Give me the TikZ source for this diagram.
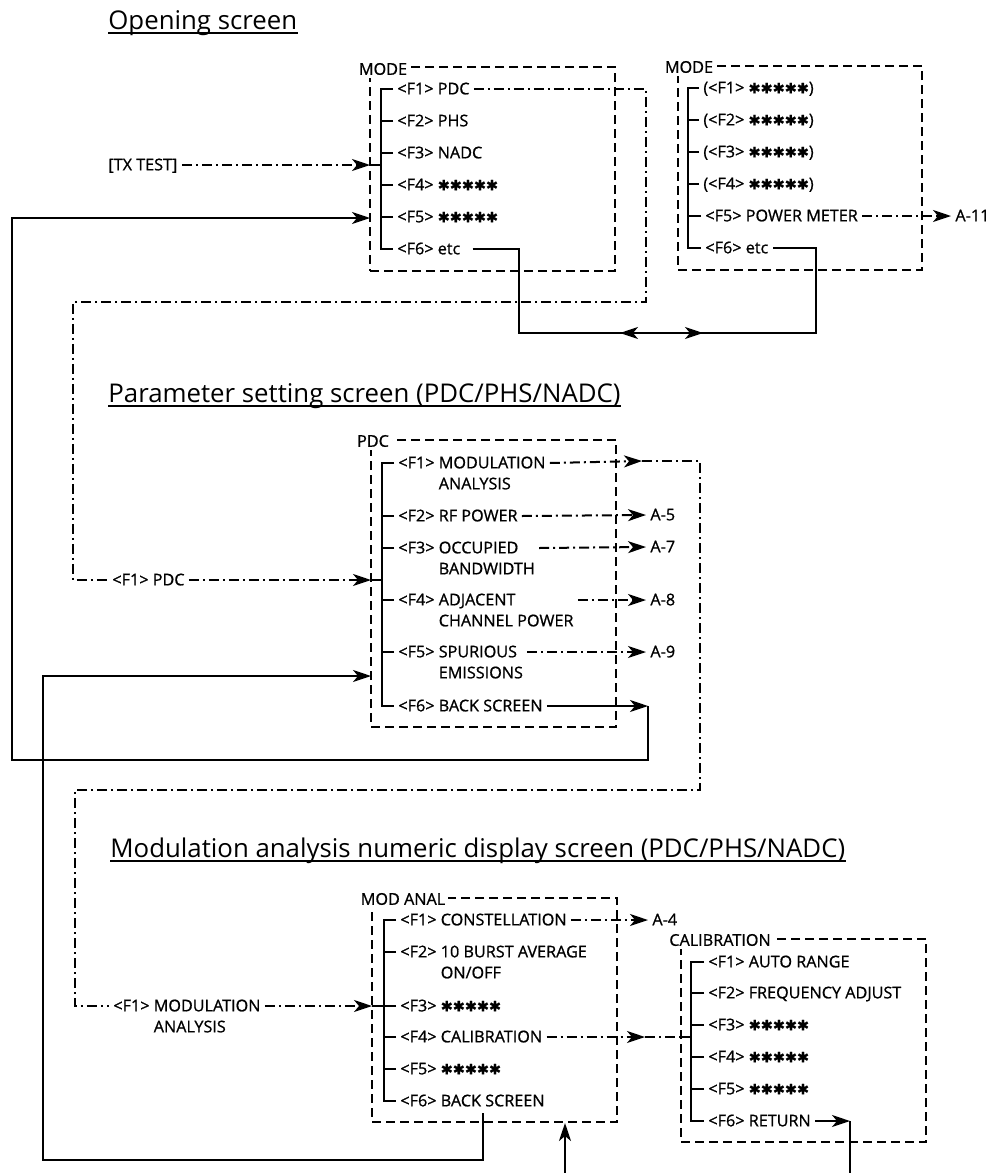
\documentclass[tikz,border=0pt]{standalone}
\usepackage{fontspec}
\setmainfont{Open Sans}
\newfontfamily\itemfamily{Open Sans}[FakeBold=0.9]
\newfontfamily\symfont{DejaVu Sans}[FakeBold=0.5]
\usetikzlibrary{positioning, calc, fit, arrows.meta}
\newcommand{\fivestars}{{\symfont\fontsize{7.2}{7}\selectfont ✱✱✱✱✱}}
\newcommand{\twolines}[2]{\begin{tabular}[t]{@{}l@{}}#1\\#2\end{tabular}}

\begin{document}
\begin{tikzpicture}[x=0.5pt, y=-0.5pt,
    screen/.style={draw, line width=1pt, dash pattern=on 4.5pt off 2.5pt, inner sep=0pt},
    scrlabel/.style={fill=white, inner sep=1.5pt, font=\itemfamily\fontsize{8.1}{10.5}\selectfont},
    item/.style={anchor=mid west, inner sep=2pt, font=\itemfamily\fontsize{8.1}{10.5}\selectfont},
    title/.style={anchor=base west, inner sep=0pt, font=\fontsize{12.9}{15}\selectfont},
    tree/.style={line width=1pt},
    conn/.style={line width=1pt},
    chain/.style={line width=1pt, dash pattern=on 5pt off 2pt on 1pt off 2pt},
    arr/.style={-{Stealth[length=9pt, width=6pt, inset=2.5pt]}}
]
    \useasboundingbox (0,0) rectangle (995,1173);

    % titles
    \node[title] (t1) at (108,29) {Opening screen};
    \node[title] (t2) at (108,402) {Parameter setting screen (PDC/PHS/NADC)};
    \node[title] (t3) at (110,857) {Modulation analysis numeric display screen (PDC/PHS/NADC)};
    \draw[line width=0.8pt] ([yshift=-2pt]t1.base west) -- ([yshift=-2pt]t1.base east);
    \draw[line width=0.8pt] ([yshift=-2pt]t2.base west) -- ([yshift=-2pt]t2.base east);
    \draw[line width=0.8pt] ([yshift=-2pt]t3.base west) -- ([yshift=-2pt]t3.base east);

    % opening screen, first page
    \node[screen, fit={(370,67) (615,271)}] (mode1) {};
    \node[scrlabel] (mode1lbl) at (383,69) {MODE};
    \node[item] (m1f1) at (393,89) {<F1> PDC};
    \node[item] (m1f2) at (393,121) {<F2> PHS};
    \node[item] (m1f3) at (393,153) {<F3> NADC};
    \node[item] (m1f4) at (393,185) {<F4> \fivestars};
    \node[item] (m1f5) at (393,217) {<F5> \fivestars};
    \node[item] (m1f6) at (393,249) {<F6> etc};
    \draw[tree] (m1f1.mid west) -- ++(-12,0) |- (m1f6.mid west)
        (m1f2.mid west) -- ++(-12,0) (m1f3.mid west) -- ++(-12,0)
        (m1f4.mid west) -- ++(-12,0) (m1f5.mid west) -- ++(-12,0);

    % opening screen, second page
    \node[screen, fit={(678,66) (922,270)}] (mode2) {};
    \node[scrlabel] (mode2lbl) at (689,67) {MODE};
    \node[item] (m2f1) at (699,88) {(<F1> \fivestars)};
    \node[item] (m2f2) at (699,120) {(<F2> \fivestars)};
    \node[item] (m2f3) at (699,152) {(<F3> \fivestars)};
    \node[item] (m2f4) at (699,184) {(<F4> \fivestars)};
    \node[item] (m2f5) at (701,216) {<F5> POWER METER};
    \node[item] (m2f6) at (701,248) {<F6> etc};
    \draw[tree] (m2f1.mid west) -- ++(-11,0) |- (m2f6.mid west)
        (m2f2.mid west) -- ++(-11,0) (m2f3.mid west) -- ++(-11,0)
        (m2f4.mid west) -- ++(-11,0) (m2f5.mid west) -- ++(-13,0);
    \node[item] (a11) at (951,216) {A-11};

    % parameter setting screen
    \node[screen, fit={(371,440) (616,727)}] (pdcbox) {};
    \node[scrlabel] (pdclbl) at (373,441) {PDC};
    \node[item] (p3f1) at (394,463) {<F1> \twolines{MODULATION}{ANALYSIS}};
    \node[item] (p3f2) at (394,516) {<F2> RF POWER};
    \node[item] (p3f3) at (394,548) {<F3> \twolines{OCCUPIED}{BANDWIDTH}};
    \node[item] (p3f4) at (394,600) {<F4> \twolines{ADJACENT}{CHANNEL POWER}};
    \node[item] (p3f5) at (394,652) {<F5> \twolines{SPURIOUS}{EMISSIONS}};
    \node[item] (p3f6) at (394,706) {<F6> BACK SCREEN};
    \draw[tree] (p3f1.mid west) -- ++(-12,0) |- (p3f6.mid west)
        (p3f2.mid west) -- ++(-12,0) (p3f3.mid west) -- ++(-12,0)
        (p3f4.mid west) -- ++(-12,0) (p3f5.mid west) -- ++(-12,0);
    \node[item] (a5) at (646,515) {A-5};
    \node[item] (a7) at (646,547) {A-7};
    \node[item] (a8) at (646,600) {A-8};
    \node[item] (a9) at (646,652) {A-9};

    % modulation analysis screen
    \node[screen, fit={(372,898) (617,1122)}] (modbox) {};
    \node[scrlabel] (modlbl) at (403,899) {MOD ANAL};
    \node[item] (m4f1) at (396,920) {<F1> CONSTELLATION};
    \node[item] (m4f2) at (396,952) {<F2> \twolines{10 BURST AVERAGE}{ON/OFF}};
    \node[item] (m4f3) at (396,1006) {<F3> \fivestars};
    \node[item] (m4f4) at (396,1037) {<F4> CALIBRATION};
    \node[item] (m4f5) at (396,1069) {<F5> \fivestars};
    \node[item] (m4f6) at (396,1101) {<F6> BACK SCREEN};
    \draw[tree] (m4f1.mid west) -- ++(-12,0) |- (m4f6.mid west)
        (m4f2.mid west) -- ++(-12,0) (m4f3.mid west) -- ++(-12,0)
        (m4f4.mid west) -- ++(-12,0) (m4f5.mid west) -- ++(-12,0);
    \node[item] (a4) at (648,920) {A-4};

    % calibration screen
    \node[screen, fit={(681,939) (926,1142)}] (calbox) {};
    \node[scrlabel] (callbl) at (720,940) {CALIBRATION};
    \node[item] (c5f1) at (704,962) {<F1> AUTO RANGE};
    \node[item] (c5f2) at (704,993) {<F2> FREQUENCY ADJUST};
    \node[item] (c5f3) at (704,1025) {<F3> \fivestars};
    \node[item] (c5f4) at (704,1057) {<F4> \fivestars};
    \node[item] (c5f5) at (704,1089) {<F5> \fivestars};
    \node[item] (c5f6) at (704,1121) {<F6> RETURN};
    \draw[tree] (c5f1.mid west) -- ++(-13,0) |- (c5f6.mid west)
        (c5f2.mid west) -- ++(-13,0) (c5f3.mid west) -- ++(-13,0)
        (c5f4.mid west) -- ++(-13,0) (c5f5.mid west) -- ++(-13,0);

    % selections coming in from the left
    \node[item] (txtest) at (104,165) {[TX TEST]};
    \node[item] (pdcsel) at (108,580) {<F1> PDC};
    \node[item] (modsel) at (109,1006) {<F1> \twolines{MODULATION}{ANALYSIS}};

    \coordinate (m1in) at (370,165);
    \coordinate (m1back) at (370,218);
    \coordinate (p3in) at (371,580);
    \coordinate (p3back) at (371,676);
    \coordinate (m4in) at (372,1006);
    \coordinate (c5in) at (681,1037);

    % [TX TEST] into the opening screen
    \draw[chain, arr] (txtest.mid east) -- (m1in);
    \draw[tree] (m1in) -- ++(11,0);

    % <F1> PDC
    \coordinate (pdc1) at (646,89);
    \coordinate (pdc2) at (646,302);
    \coordinate (pdc3) at (73,302);
    \draw[chain] (m1f1.mid east) -- (pdc1) -- (pdc2) -- (pdc3) |- (pdcsel.mid west);
    \draw[chain, arr] (pdcsel.mid east) -- (p3in);
    \draw[tree] (p3in) -- ++(11,0);

    % <F6> etc, both ways
    \coordinate (etc1) at (519,333);
    \coordinate (etc2) at (816,333);
    \coordinate (etcl) at (620,333);
    \coordinate (etcr) at (703,333);
    \draw[conn, shorten <=4pt] (m1f6.mid east) -| (etc1) -- (etc2) |- (m2f6.mid east);
    \draw[conn, arr] ([xshift=10pt]etcl) -- (etcl);
    \draw[conn, arr] ([xshift=-10pt]etcr) -- (etcr);

    % <F5> POWER METER
    \draw[chain, arr] (m2f5.mid east) -- (a11.mid west);

    % parameter setting outputs
    \coordinate (modtip) at (642,461);
    \coordinate (mod1) at (700,461);
    \coordinate (mod2) at (700,790);
    \coordinate (mod3) at (75,790);
    \draw[chain, arr] (p3f1.mid east) -- (modtip);
    \draw[chain] (modtip) -- (mod1) -- (mod2) -- (mod3) |- (modsel.mid west);
    \draw[chain, arr] (p3f2.mid east) -- (a5.mid west);
    \draw[chain, arr] (p3f3.mid east) -- (a7.mid west);
    \draw[chain, arr] (p3f4.mid east) -- (a8.mid west);
    \draw[chain, arr] (p3f5.mid east) -- (a9.mid west);

    % <F6> BACK SCREEN to the opening screen
    \coordinate (back1) at (648,706);
    \coordinate (back2) at (12,760);
    \draw[conn, arr] (p3f6.mid east) -- (back1);
    \draw[conn, arr] (back1) |- (back2) |- (m1back);

    % modulation analysis screen
    \draw[chain, arr] (modsel.mid east) -- (m4in);
    \draw[tree] (m4in) -- ++(12,0);
    \draw[chain, arr] (m4f1.mid east) -- (a4.mid west);
    \coordinate (caltip) at (645,1037);
    \draw[chain, arr] (m4f4.mid east) -- (caltip);
    \draw[chain] (caltip) -- (c5in);
    \draw[tree] (c5in) -- ++(10,0);

    % <F6> BACK SCREEN to the parameter setting screen
    \coordinate (mback1) at (483,1113);
    \coordinate (mback2) at (43,1160);
    \draw[conn, arr] (mback1) |- (mback2) |- (p3back);

    % <F6> RETURN and the way back up
    \coordinate (ret1) at (850,1121);
    \coordinate (ret2) at (850,1173);
    \draw[conn, arr] (c5f6.mid east) -- (ret1);
    \draw[conn] (ret1) -- (ret2);
    \coordinate (up1) at (565,1173);
    \draw[conn, arr] (up1) -- (up1 |- modbox.south);
\end{tikzpicture}
\end{document}
